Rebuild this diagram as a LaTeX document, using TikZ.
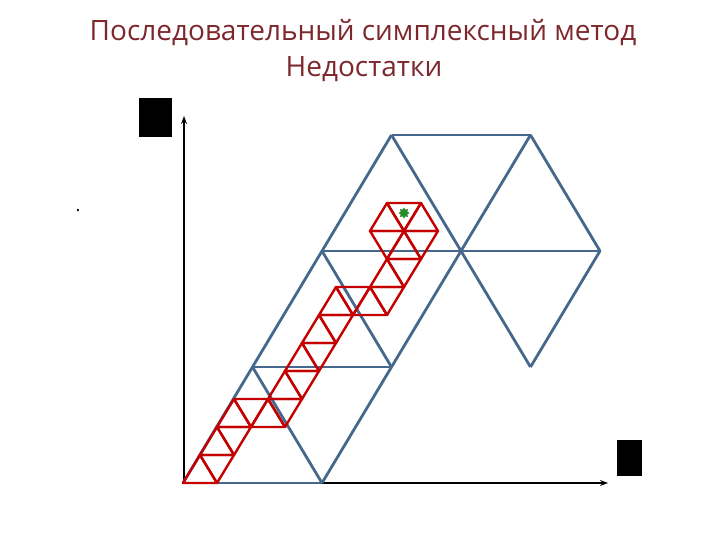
\documentclass[tikz,border=0pt]{standalone}
\usepackage{fontspec}
\setmainfont{Open Sans}
\usetikzlibrary{arrows.meta,shapes.geometric}
\definecolor{bluegrey}{RGB}{70,104,140}
\definecolor{redline}{RGB}{196,0,0}
\definecolor{titlered}{RGB}{125,40,45}
\definecolor{stargreen}{RGB}{40,140,40}
\tikzset{
  axis/.style={line width=2pt,black,-{Stealth[length=8pt,width=6pt]}},
  bigtri/.style={line width=2.8pt,bluegrey,line join=round},
  smalltri/.style={line width=2.4pt,redline,line join=round},
  titletext/.style={font=\fontsize{28}{34}\selectfont,text=titlered,align=center},
  blackbox/.style={fill=black,draw=none}
}
\begin{document}
\begin{tikzpicture}[x=1pt,y=-1pt]
\useasboundingbox (0,0) rectangle (720,540);
% title
\node[titletext] (title1) at (363,33) {Последовательный симплексный метод};
\node[titletext] (title2) at (364,69) {Недостатки};
% black boxes
\fill[blackbox] (139,98) rectangle (172,137);
\fill[blackbox] (617,440) rectangle (642,476);
% stray dot
\node[font=\fontsize{18}{20}\selectfont] (dot) at (78,211) {.};
% axes
\coordinate (O) at (184,483);
\coordinate (ytip) at (184,116);
\coordinate (xtip) at (608,483);
\draw[axis] (O) -- (ytip);
\draw[axis] (O) -- (xtip);
% blue big lattice
\coordinate (Q00) at (183,483);
\coordinate (Q10) at (322,483);
\coordinate (Q01) at (252.5,367);
\coordinate (Q11) at (391.5,367);
\coordinate (Q21) at (530.5,367);
\coordinate (Q02) at (322,251);
\coordinate (Q12) at (461,251);
\coordinate (Q22) at (600,251);
\coordinate (Q03) at (391.5,135);
\coordinate (Q13) at (530.5,135);
\draw[bigtri] (Q00) -- (Q10);
\draw[bigtri] (Q00) -- (Q03);
\draw[bigtri] (Q01) -- (Q10);
\draw[bigtri] (Q10) -- (Q13);
\draw[bigtri] (Q01) -- (Q11);
\draw[bigtri] (Q02) -- (Q11);
\draw[bigtri] (Q02) -- (Q22);
\draw[bigtri] (Q03) -- (Q13);
\draw[bigtri] (Q03) -- (Q21);
\draw[bigtri] (Q13) -- (Q22) -- (Q21);
% red small lattice: upward triangles
\foreach \i/\j in {0/0,0/1,0/2,1/2,1/3,1/4,1/5,1/6,2/6,2/7,2/8,1/9,2/9}
  \draw[smalltri] ({183+34*\i+17*\j},{483-28*\j}) -- ++(34,0) -- ++(-17,-28) -- cycle;
% downward triangles
\foreach \i/\j in {0/0,0/1,0/2,1/2,1/3,1/4,1/5,1/6,2/6,2/7,1/8,2/8,1/9}
  \draw[smalltri] ({183+34*(\i+1)+17*\j},{483-28*\j}) -- ++(-17,-28) -- ++(34,0) -- cycle;
% green star
\node[star,star points=8,star point ratio=1.5,fill=stargreen,draw=none,minimum size=11pt,inner sep=0pt] (best) at (404,213) {};
\end{tikzpicture}
\end{document}
